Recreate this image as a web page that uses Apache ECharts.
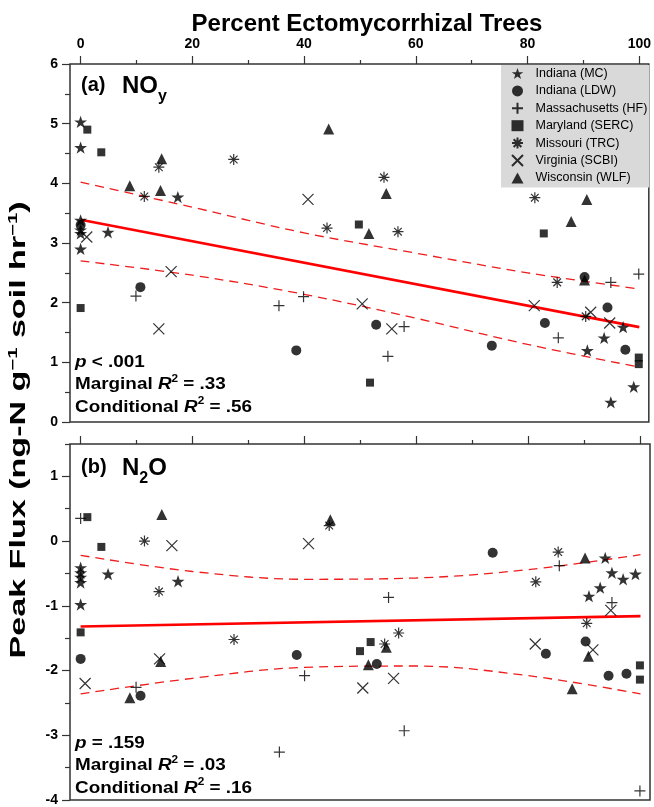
<!DOCTYPE html>
<html>
<head>
<meta charset="utf-8">
<script src="https://cdn.jsdelivr.net/npm/echarts@6/dist/echarts.min.js"></script>
<style>
  html, body { margin: 0; padding: 0; background: #fff; }
  #chart { width: 654px; height: 807px; }
</style>
</head>
<body>
<div id="chart"></div>
<script>
// sites (legend order)
const sites = ['Indiana (MC)', 'Indiana (LDW)', 'Massachusetts (HF)', 'Maryland (SERC)', 'Missouri (TRC)', 'Virginia (SCBI)', 'Wisconsin (WLF)'];

// panel (a) NOy : [percent ECM, peak flux]
const noyMC = [[0, 5.03], [0, 4.6], [0, 3.38], [0, 3.22], [0, 3.16], [0, 2.9], [4.9, 3.18], [17.4, 3.77], [90.7, 1.2], [93.7, 1.41], [97.1, 1.59], [99, 0.59], [94.9, 0.33]];
const noyLDW = [[0, 3.3], [10.7, 2.26], [38.6, 1.2], [52.9, 1.63], [73.6, 1.28], [83.1, 1.66], [90.2, 2.43], [94.3, 1.92], [97.5, 1.21]];
const noyHF = [[9.9, 2.11], [35.5, 1.95], [39.9, 2.1], [55, 1.1], [57.9, 1.6], [85.5, 1.41], [94.9, 2.34], [99.9, 2.48]];
const noySERC = [[1.2, 4.9], [3.7, 4.52], [0, 1.91], [49.8, 3.31], [51.8, 0.66], [82.9, 3.16], [99.9, 1.08], [99.9, 0.97]];
const noyTRC = [[14, 4.27], [27.4, 4.4], [11.4, 3.78], [44.1, 3.25], [54.3, 4.1], [56.8, 3.19], [81.3, 3.76], [85.3, 2.34], [90.4, 1.77]];
const noySCBI = [[1.1, 3.1], [40.7, 3.73], [16.2, 2.52], [14, 1.56], [50.4, 1.98], [55.7, 1.56], [81.2, 1.95], [91.3, 1.84], [94.7, 1.66]];
const noyWLF = [[14.5, 4.41], [8.8, 3.96], [14.3, 3.88], [44.4, 4.91], [54.7, 3.83], [51.6, 3.16], [90.6, 3.73], [87.8, 3.36], [90.2, 2.38]];

// panel (b) N2O
const n2oMC = [[0, -0.41], [0, -0.49], [0, -0.56], [0, -0.64], [0, -0.98], [4.9, -0.51], [17.4, -0.62], [93.7, -0.26], [94.9, -0.49], [96.9, -0.59], [99.1, -0.51], [92.8, -0.72], [90.8, -0.85]];
const n2oLDW = [[0, -1.82], [10.7, -2.39], [38.6, -1.76], [52.9, -1.9], [73.6, -0.18], [83.1, -1.74], [90.2, -1.55], [94.3, -2.08], [97.5, -2.05]];
const n2oHF = [[0, 0.35], [9.9, -2.26], [35.5, -3.26], [40, -2.08], [55, -0.87], [57.8, -2.93], [85.5, -0.38], [94.9, -0.95], [99.9, -3.86]];
const n2oSERC = [[1.2, 0.37], [3.7, -0.09], [0, -1.41], [49.9, -1.7], [51.8, -1.56], [99.9, -1.92], [99.9, -2.14]];
const n2oTRC = [[11.4, 0.0], [14, -0.78], [27.4, -1.52], [44.4, 0.24], [54.3, -1.59], [56.8, -1.42], [81.3, -0.63], [85.3, -0.17], [90.4, -1.27]];
const n2oSCBI = [[0.8, -2.2], [16.3, -0.07], [14.1, -1.82], [40.7, -0.04], [50.4, -2.27], [55.9, -2.12], [81.2, -1.59], [91.5, -1.68], [94.7, -1.07]];
const n2oWLF = [[14.5, 0.41], [8.8, -2.42], [14.3, -1.86], [44.6, 0.33], [51.4, -1.91], [54.6, -1.64], [90.1, -0.26], [87.8, -2.28], [90.7, -1.78]];

// fitted lines and confidence bands
const fitX = [0, 100];
const noyFit = [3.39, 1.59];
const n2oFit = [-1.32, -1.16];
const bandX = [0, 20, 40, 60, 80, 100];
const noyUpper = [4.02, 3.6, 3.17, 2.83, 2.5, 2.23];
const noyLower = [2.7, 2.46, 2.14, 1.74, 1.3, 0.92];
const n2oUpper = [-0.22, -0.47, -0.59, -0.57, -0.44, -0.21];
const n2oLower = [-2.36, -2.12, -1.95, -1.93, -2.08, -2.36];

// tick labels
const xMajor = [0, 20, 40, 60, 80, 100];
const xMinor = [10, 30, 50, 70, 90];
const noyTicks = [0, 1, 2, 3, 4, 5, 6];
const noyMinor = [0.5, 1.5, 2.5, 3.5, 4.5, 5.5];
const n2oTicks = [-4, -3, -2, -1, 0, 1];
const n2oMinor = [-3.5, -2.5, -1.5, -0.5, 0.5, 1.5];

const FONT = '"Liberation Sans", Arial, sans-serif';
const STAR = 'path://M6,0 L7.4,4.1 L11.7,4.1 L8.2,6.7 L9.5,10.8 L6,8.3 L2.5,10.8 L3.8,6.7 L0.3,4.1 L4.6,4.1 Z';
const PLUS = 'path://M6,0 L6,12 M0,6 L12,6';
const CROSS = 'path://M0,0 L12,12 M12,0 L0,12';
const ASTER = 'path://M6,0 L6,12 M0,6 L12,6 M1.8,1.8 L10.2,10.2 M10.2,1.8 L1.8,10.2';

const filled = { color: '#000' };
const stroked = { color: 'rgba(0,0,0,0)', borderColor: '#000', borderWidth: 1.2 };
const marks = [
  { symbol: STAR, size: 13, style: filled },
  { symbol: 'circle', size: 10, style: filled },
  { symbol: PLUS, size: 11, style: stroked },
  { symbol: 'rect', size: 8, style: filled },
  { symbol: ASTER, size: 11, style: stroked },
  { symbol: CROSS, size: 11, style: stroked },
  { symbol: 'triangle', size: 11, style: filled }
];
const noyData = [noyMC, noyLDW, noyHF, noySERC, noyTRC, noySCBI, noyWLF];
const n2oData = [n2oMC, n2oLDW, n2oHF, n2oSERC, n2oTRC, n2oSCBI, n2oWLF];

function xAxisOf(grid, values, len, labels) {
  return {
    type: 'value', gridIndex: grid, position: 'top', min: -1.9, max: 101.7,
    axisLine: { show: false, onZero: false }, splitLine: { show: false },
    axisTick: { show: true, customValues: values, length: len, lineStyle: { color: '#333', width: 1.2 } },
    axisLabel: { show: labels, customValues: values, margin: 13, color: '#000', fontFamily: FONT, fontWeight: 'bold', fontSize: 14 }
  };
}
function yAxisOf(grid, min, max, values, len, labels) {
  return {
    type: 'value', gridIndex: grid, position: 'left', min: min, max: max,
    axisLine: { show: false, onZero: false }, splitLine: { show: false },
    axisTick: { show: true, customValues: values, length: len, lineStyle: { color: '#333', width: 1.2 } },
    axisLabel: { show: labels, customValues: values, margin: 12, color: '#000', fontFamily: FONT, fontWeight: 'bold', fontSize: 14 }
  };
}
function zip(xs, ys) { return xs.map((x, i) => [x, ys[i]]); }
function fitLine(ax, xs, ys, dashed) {
  return {
    type: 'line', xAxisIndex: ax, yAxisIndex: ax, data: zip(xs, ys), showSymbol: false, silent: true,
    smooth: dashed ? 0.35 : false, z: 1,
    lineStyle: dashed ? { color: '#ee1c1c', width: 1.3, type: [9, 6] } : { color: '#ff0000', width: 2.6 }
  };
}

const series = [];
sites.forEach((name, i) => {
  [noyData[i], n2oData[i]].forEach((d, p) => {
    series.push({
      name: name, type: 'scatter', xAxisIndex: p * 2, yAxisIndex: p * 2, data: d, z: 3,
      symbol: marks[i].symbol, symbolSize: marks[i].size, symbolKeepAspect: true,
      itemStyle: marks[i].style
    });
  });
});
series.push(fitLine(0, fitX, noyFit, false), fitLine(0, bandX, noyUpper, true), fitLine(0, bandX, noyLower, true));
series.push(fitLine(2, fitX, n2oFit, false), fitLine(2, bandX, n2oUpper, true), fitLine(2, bandX, n2oLower, true));

const statRich = {
  b: { fontFamily: FONT, fontWeight: 'bold', fontSize: 16, color: '#000', lineHeight: 22.3 },
  i: { fontFamily: FONT, fontWeight: 'bold', fontStyle: 'italic', fontSize: 16, color: '#000', lineHeight: 22.3 },
  s: { fontFamily: FONT, fontWeight: 'bold', fontSize: 10, color: '#000', verticalAlign: 'top', lineHeight: 19 }
};
const labelRich = {
  a: { fontFamily: FONT, fontWeight: 'bold', fontSize: 20, color: '#000' }
};
const panelRich = {
  n: { fontFamily: FONT, fontWeight: 'bold', fontSize: 24, color: '#000' },
  sub: { fontFamily: FONT, fontWeight: 'bold', fontSize: 16, color: '#000', verticalAlign: 'bottom', lineHeight: 38 }
};

const chart = echarts.init(document.getElementById('chart'));
chart.setOption({
  backgroundColor: '#fff',
  animation: false,
  grid: [
    { left: 70, top: 64, width: 580, height: 358, show: true, borderColor: '#333', borderWidth: 1.5, backgroundColor: 'transparent' },
    { left: 70, top: 444, width: 580, height: 358, show: true, borderColor: '#333', borderWidth: 1.5, backgroundColor: 'transparent' }
  ],
  xAxis: [
    xAxisOf(0, xMajor, 8, true), xAxisOf(0, xMinor, 4, false),
    xAxisOf(1, xMajor, 8, false), xAxisOf(1, xMinor, 4, false)
  ],
  yAxis: [
    yAxisOf(0, 0, 6, noyTicks, 8, true), yAxisOf(0, 0, 6, noyMinor, 5, false),
    yAxisOf(1, -4, 1.5, n2oTicks, 8, true), yAxisOf(1, -4, 1.5, n2oMinor, 5, false)
  ],
  legend: {
    data: sites, orient: 'vertical', left: 501, top: 65,
    backgroundColor: '#d9d9d9', padding: [2, 2, 3, 10], itemGap: 4.4,
    itemWidth: 12, itemHeight: 11, selectedMode: false,
    textStyle: { fontFamily: FONT, fontSize: 12.5, color: '#000', lineHeight: 11, padding: [0, 0, 0, 7] }
  },
  graphic: [
    { type: 'text', x: 367, y: 24, style: { text: 'Percent Ectomycorrhizal Trees', font: 'bold 24px ' + FONT, fill: '#000', align: 'center', verticalAlign: 'middle' } },
    { type: 'text', x: 19, y: 430, rotation: Math.PI / 2, scaleX: 1.55, style: {
      text: '{t|Peak Flux (ng-N g}{s|−1}{t| soil hr}{s|−1}{t|)}', align: 'center', verticalAlign: 'middle',
      rich: {
        t: { fontFamily: FONT, fontWeight: 'bold', fontSize: 22, color: '#000', lineHeight: 25 },
        s: { fontFamily: FONT, fontWeight: 'bold', fontSize: 13, color: '#000', verticalAlign: 'top', lineHeight: 21 }
      } } },
    { type: 'text', x: 81, y: 85, style: { text: '{a|(a)}', verticalAlign: 'middle', rich: labelRich } },
    { type: 'text', x: 122, y: 86, style: { text: '{n|NO}{sub|y}', verticalAlign: 'middle', rich: panelRich } },
    { type: 'text', x: 81, y: 467, style: { text: '{a|(b)}', verticalAlign: 'middle', rich: labelRich } },
    { type: 'text', x: 122, y: 468, style: { text: '{n|N}{sub|2}{n|O}', verticalAlign: 'middle', rich: panelRich } },
    { type: 'text', x: 75, y: 385, scaleX: 1.18, style: { text: '{i|p}{b| < .001}\n{b|Marginal }{i|R}{s|2}{b| = .33}\n{b|Conditional }{i|R}{s|2}{b| = .56}', verticalAlign: 'middle', rich: statRich } },
    { type: 'text', x: 75, y: 766, scaleX: 1.18, style: { text: '{i|p}{b| = .159}\n{b|Marginal }{i|R}{s|2}{b| = .03}\n{b|Conditional }{i|R}{s|2}{b| = .16}', verticalAlign: 'middle', rich: statRich } }
  ],
  series: series
});
</script>
</body>
</html>
